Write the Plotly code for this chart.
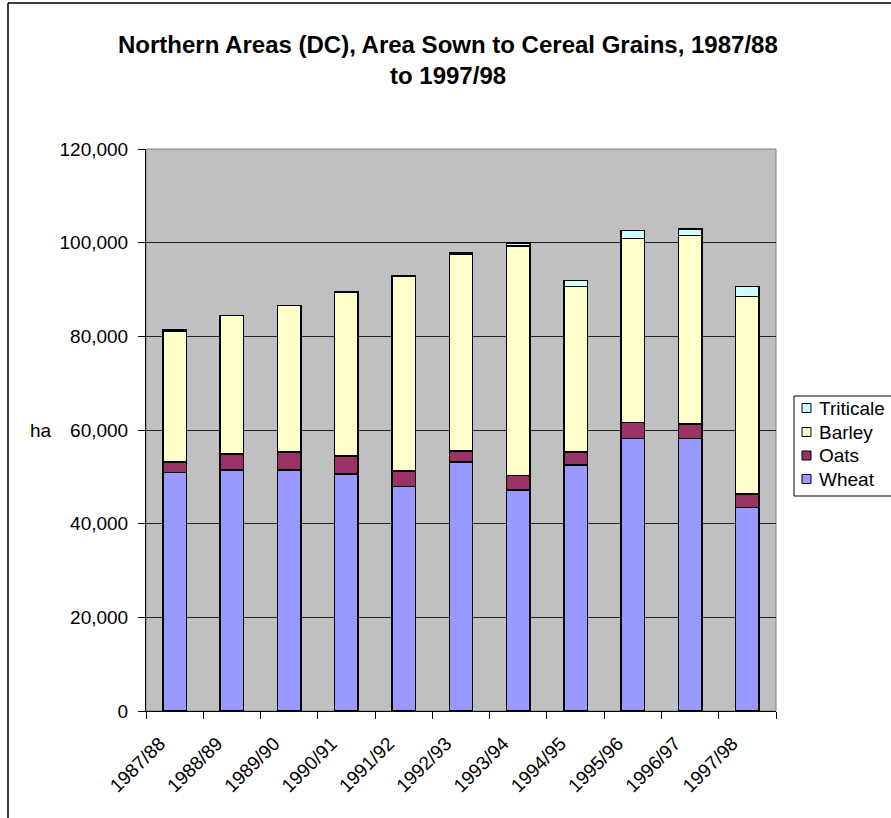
import plotly.graph_objects as go

years = ["1987/88", "1988/89", "1989/90", "1990/91", "1991/92", "1992/93",
         "1993/94", "1994/95", "1995/96", "1996/97", "1997/98"]
wheat = [50900, 51500, 51500, 50600, 47900, 53200, 47200, 52500, 58200, 58200, 43500]
oats = [2300, 3400, 3800, 3900, 3350, 2300, 3050, 2800, 3400, 3050, 2800]
barley = [27900, 29600, 31300, 34950, 41650, 42100, 49050, 35300, 39250, 40300, 42200]
triticale = [300, 0, 0, 0, 0, 300, 650, 1300, 1800, 1350, 2100]

series = [("Wheat", wheat, "#9999FF"), ("Oats", oats, "#993366"),
          ("Barley", barley, "#FFFFCC"), ("Triticale", triticale, "#CCFFFF")]

W, H = 891, 818
L, R, T, B = 146, 776, 149, 711
pw, ph = R - L, B - T

def px(x):
    return (x - L) / pw

def py(y):
    return (B - y) / ph

fig = go.Figure()
for name, vals, col in series:
    fig.add_trace(go.Bar(x=years, y=vals, name=name, showlegend=False,
                         marker=dict(color=col, line=dict(color="black", width=1.5))))

font = "Arial, Liberation Sans, sans-serif"
fig.update_layout(
    width=W, height=H,
    margin=dict(l=L, r=W - R, t=T, b=H - B, pad=0, autoexpand=False),
    barmode="stack", bargap=0.59,
    paper_bgcolor="white", plot_bgcolor="#C0C0C0",
    font=dict(family=font, size=19, color="black"),
    showlegend=False,
    xaxis=dict(showline=True, linecolor="black", linewidth=1, ticks="outside",
               tickson="boundaries", ticklen=7, tickcolor="black", tickangle=-45,
               showgrid=False, tickfont=dict(size=19),
               ticklabelstandoff=13, ticklabelshift=-15),
    yaxis=dict(range=[0, 120000], dtick=20000, tickformat=",d", showline=True,
               linecolor="black", linewidth=1, ticks="outside", ticklen=7,
               tickcolor="black", showgrid=True, gridcolor="#222222", gridwidth=1,
               tickfont=dict(size=19), zeroline=False, ticklabelstandoff=6),
)

fig.add_shape(type="rect", xref="paper", yref="paper", x0=0, x1=1, y0=0, y1=1,
              line=dict(color="#808080", width=1), layer="below")
# outer chart border (left and top edges visible)
fig.add_shape(type="line", xref="paper", yref="paper", x0=px(8), x1=px(8),
              y0=py(3), y1=py(830), line=dict(color="black", width=1.5))
fig.add_shape(type="line", xref="paper", yref="paper", x0=px(8), x1=px(900),
              y0=py(3), y1=py(3), line=dict(color="black", width=1.5))

# legend (drawn manually, Triticale on top)
fig.add_shape(type="rect", xref="paper", yref="paper", x0=px(794), x1=px(905),
              y0=py(496), y1=py(396), line=dict(color="black", width=1),
              fillcolor="white")
item_y = [479, 455.5, 432, 408]
for (name, _, col), yc in zip(series, item_y):
    fig.add_shape(type="rect", xref="paper", yref="paper",
                  x0=px(802), x1=px(811), y0=py(yc + 4.5), y1=py(yc - 4.5),
                  line=dict(color="black", width=1), fillcolor=col)
    fig.add_annotation(text=name, xref="paper", yref="paper", x=px(817), y=py(yc),
                       xanchor="left", yanchor="middle", showarrow=False,
                       font=dict(size=19, family=font))

fig.add_annotation(text="<b>Northern Areas (DC), Area Sown to Cereal Grains, 1987/88</b>",
                   xref="paper", yref="paper", x=px(448), y=py(45),
                   xanchor="center", yanchor="middle", showarrow=False,
                   font=dict(size=24, family=font))
fig.add_annotation(text="<b>to 1997/98</b>",
                   xref="paper", yref="paper", x=px(448), y=py(75),
                   xanchor="center", yanchor="middle", showarrow=False,
                   font=dict(size=24, family=font))
fig.add_annotation(text="ha", xref="paper", yref="paper", x=px(28), y=py(430),
                   xanchor="left", yanchor="middle", showarrow=False,
                   font=dict(size=19, family=font))

fig.write_html("out.html", config={"displayModeBar": False},
               post_script="document.body.style.margin='0';document.body.style.overflow='hidden';")
